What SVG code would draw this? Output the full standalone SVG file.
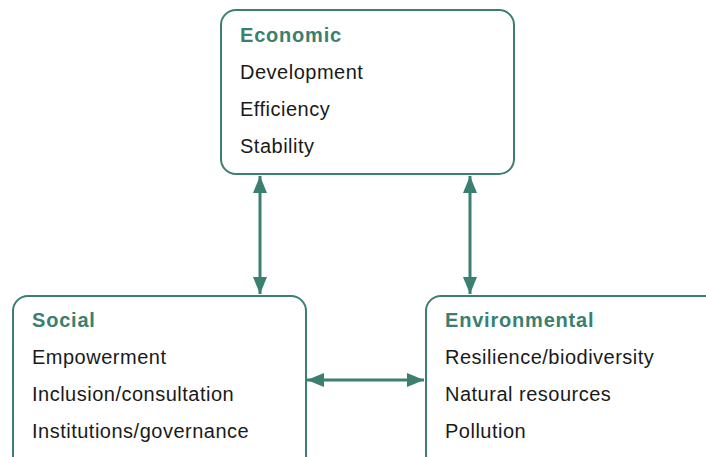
<svg xmlns="http://www.w3.org/2000/svg" width="706" height="457" viewBox="0 0 706 457">
<style>
.box{fill:#fff;stroke:#3a7f6f;stroke-width:2}
.t{font-family:"Liberation Sans",Arial,sans-serif;font-size:20px;letter-spacing:0.5px;fill:#1a1a1a}
.h{font-family:"Liberation Sans",Arial,sans-serif;font-size:20px;font-weight:bold;letter-spacing:0.8px;fill:#3a7f6f}
.c{stroke:#3a7f6f;stroke-width:3;fill:none}
</style>
<defs>
<marker id="ah" markerUnits="userSpaceOnUse" markerWidth="18" markerHeight="16" refX="17" refY="7" orient="auto-start-reverse" viewBox="0 0 18 14">
<polygon points="0,0 17,7 0,14" fill="#3a7f6f"/>
</marker>
</defs>
<rect width="706" height="457" fill="#fff"/>
<g id="economic">
<rect class="box" x="221" y="10" width="293" height="164" rx="15"/>
<text class="h" x="240" y="42">Economic</text>
<text class="t" x="240" y="79">Development</text>
<text class="t" x="240" y="116">Efficiency</text>
<text class="t" x="240" y="153">Stability</text>
</g>
<g id="social">
<rect class="box" x="13" y="296" width="293" height="200" rx="15"/>
<text class="h" x="32" y="327">Social</text>
<text class="t" x="32" y="364">Empowerment</text>
<text class="t" x="32" y="401">Inclusion/consultation</text>
<text class="t" x="32" y="438">Institutions/governance</text>
</g>
<g id="environmental">
<rect class="box" x="426" y="296" width="320" height="200" rx="15"/>
<text class="h" x="445" y="327">Environmental</text>
<text class="t" x="445" y="364">Resilience/biodiversity</text>
<text class="t" x="445" y="401">Natural resources</text>
<text class="t" x="445" y="438">Pollution</text>
</g>
<g id="connectors">
<line class="c" x1="260" y1="176" x2="260" y2="294" marker-start="url(#ah)" marker-end="url(#ah)"/>
<line class="c" x1="470" y1="176" x2="470" y2="294" marker-start="url(#ah)" marker-end="url(#ah)"/>
<line class="c" x1="307" y1="380" x2="424" y2="380" marker-start="url(#ah)" marker-end="url(#ah)"/>
</g>
</svg>
